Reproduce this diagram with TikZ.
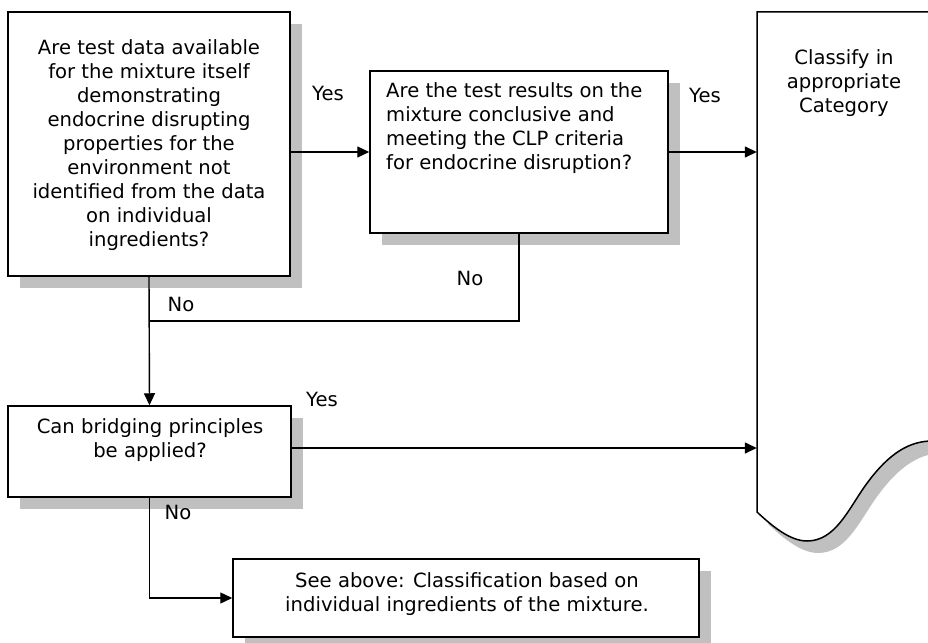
\documentclass[tikz,border=0pt]{standalone}
\usepackage{fontspec}
\setmainfont{DejaVu Sans}
\usetikzlibrary{arrows.meta,shadows,calc}
\definecolor{shadowgray}{RGB}{192,192,192}
\begin{document}
\begin{tikzpicture}[x=1pt,y=-1pt,
  every node/.style={font=\fontsize{19.6}{24}\selectfont},
  flowbox/.style={draw=black, line width=1.5pt, fill=white, inner sep=0pt,
    drop shadow={shadow xshift=12pt, shadow yshift=-12pt, fill=shadowgray, opacity=1}},
  boxtext/.style={inner sep=0pt, align=center},
  flow/.style={line width=1.4pt, draw=black},
  arr/.style={flow, -{Triangle[length=12pt,width=11pt]}},
  tag/.style={inner sep=0pt}]
\useasboundingbox (0,0) rectangle (928,642);
\clip (0,0) rectangle (928,642);

% decision boxes
\node[flowbox, minimum width=282pt, minimum height=264pt] (q1) at (149,144) {};
\node[flowbox, minimum width=298pt, minimum height=162pt] (q2) at (519,152) {};
\node[flowbox, minimum width=283pt, minimum height=91pt] (q3) at (149.5,451.5) {};
\node[flowbox, minimum width=466pt, minimum height=78pt] (q4) at (466,598) {};

\node[boxtext] (t1) at (149,145) {Are test data available\\for the mixture itself\\demonstrating\\endocrine disrupting\\properties for the\\environment not\\identified from the data\\on individual\\ingredients?};
\node[boxtext, align=left, anchor=west] (t2) at (386,128) {Are the test results on the\\mixture conclusive and\\meeting the CLP criteria\\for endocrine disruption?};
\node[boxtext] (t3) at (150,440) {Can bridging principles\\be applied?};
\node[boxtext] (t4) at (467,594) {See above: Classification based on\\individual ingredients of the mixture.};

% result shape with wavy lower edge
\fill[shadowgray, shift={(11,12)}]
  (757,12) -- (945,12) -- (945,441) -- (930,441)
  .. controls (905,442) and (885,458) .. (865,486)
  .. controls (848,510) and (835,541) .. (807,541)
  .. controls (790,541) and (772,526) .. (757,512) -- cycle;
\draw[line width=1.5pt, fill=white]
  (757,12) -- (945,12) -- (945,441) -- (930,441)
  .. controls (905,442) and (885,458) .. (865,486)
  .. controls (848,510) and (835,541) .. (807,541)
  .. controls (790,541) and (772,526) .. (757,512) -- cycle;
\node[inner sep=0pt, minimum width=174pt, minimum height=500pt] (cls) at (844,262) {};
\node[boxtext] (t5) at (844,83) {Classify in\\appropriate\\Category};

% connectors
\coordinate (merge) at (q1.south |- 0,321);
\draw[arr] (q1.east |- q2.west) -- (q2.west);
\draw[arr] (q2.east) -- (q2.east -| cls.west);
\draw[flow] (q2.south) |- (merge);
\draw[arr] (q1.south) -- (q3.north);
\draw[arr] (q3.east |- 0,448) -- (cls.west |- 0,448);
\draw[arr] (q3.south) |- (q4.west);

% branch labels
\node[tag] (y1) at (328,93) {Yes};
\node[tag] (y2) at (705,95) {Yes};
\node[tag] (n1) at (470,278) {No};
\node[tag] (n2) at (181,304) {No};
\node[tag] (y3) at (322,399) {Yes};
\node[tag] (n3) at (178,512) {No};
\end{tikzpicture}
\end{document}
